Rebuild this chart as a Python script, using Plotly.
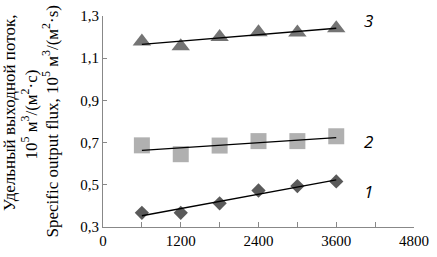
import numpy as np
import plotly.graph_objects as go

time_s = [600, 1200, 1800, 2400, 3000, 3600]
flux_1 = [0.367, 0.367, 0.412, 0.473, 0.494, 0.516]
flux_2 = [0.687, 0.645, 0.686, 0.707, 0.707, 0.730]
flux_3 = [1.179, 1.157, 1.200, 1.223, 1.222, 1.242]
curve_labels = ["1", "2", "3"]
label_x = 4100
label_y = [0.467, 0.703, 1.28]

y_tick_vals = [0.3, 0.5, 0.7, 0.9, 1.1, 1.3]
y_tick_text = ["0,3", "0,5", "0,7", "0,9", "1,1", "1,3"]
x_tick_vals = [0, 1200, 2400, 3600, 4800]
x_tick_text = ["0", "1200", "2400", "3600", "4800"]

title_lines = [
    "Удельный выходной поток,",
    "10<sup>5</sup> м<sup>3</sup>/(м<sup>2</sup>·с)",
    "Specific output flux, 10<sup>5</sup> м<sup>3</sup>/(м<sup>2</sup>·s)",
]

series = [
    (flux_1, "diamond", 11, "#5a5a5a"),
    (flux_2, "square", 16, "#b0b0b0"),
    (flux_3, "triangle-up", 16, "#747474"),
]

fig = go.Figure()
for vals, sym, sz, col in series:
    fig.add_trace(go.Scatter(x=time_s, y=vals, mode="markers",
                             marker=dict(symbol=sym, size=sz, color=col, line=dict(width=0)),
                             showlegend=False))
    k, b = np.polyfit(time_s, vals, 1)
    xs = [time_s[0], time_s[-1]]
    fig.add_trace(go.Scatter(x=xs, y=[k * x + b for x in xs], mode="lines",
                             line=dict(color="black", width=1.3), showlegend=False))

for lab, ly in zip(curve_labels, label_y):
    fig.add_annotation(x=label_x, y=ly, text=lab, showarrow=False,
                       font=dict(family="Open Sans", size=17, color="black", style="italic"),
                       xanchor="center", yanchor="middle")

title_px = [9, 29.5, 50.5]
title_center_y = [110, 112, 118]
title_size = [17, 17, 17]
for t, px, cy, fs in zip(title_lines, title_px, title_center_y, title_size):
    fig.add_annotation(xref="paper", yref="paper", x=0, y=0.5, xshift=px - 103,
                       yshift=118.5 - cy,
                       text=t, textangle=-90, showarrow=False,
                       xanchor="center", yanchor="middle",
                       font=dict(family="Liberation Serif", size=fs, color="black"))

axis_font = dict(family="Liberation Serif", size=15, color="black")
fig.update_layout(
    width=437, height=257,
    margin=dict(l=103, r=18, t=8, b=28),
    plot_bgcolor="white", paper_bgcolor="white",
    xaxis=dict(range=[0, 4800], tickvals=x_tick_vals, ticktext=x_tick_text,
               showgrid=False, zeroline=False, showline=True, linecolor="#888888", linewidth=1,
               ticks="inside", ticklen=5, tickcolor="#888888",
               minor=dict(dtick=600, ticks="inside", ticklen=5, tickcolor="#888888"),
               tickfont=axis_font),
    yaxis=dict(range=[0.3, 1.3], tickvals=y_tick_vals, ticktext=y_tick_text,
               showgrid=False, zeroline=False, showline=True, linecolor="#888888", linewidth=1,
               ticks="inside", ticklen=4, tickcolor="#888888",
               tickfont=axis_font),
)
fig.write_html("out.html", config={"displayModeBar": False},
               post_script="document.body.style.margin='0';")
